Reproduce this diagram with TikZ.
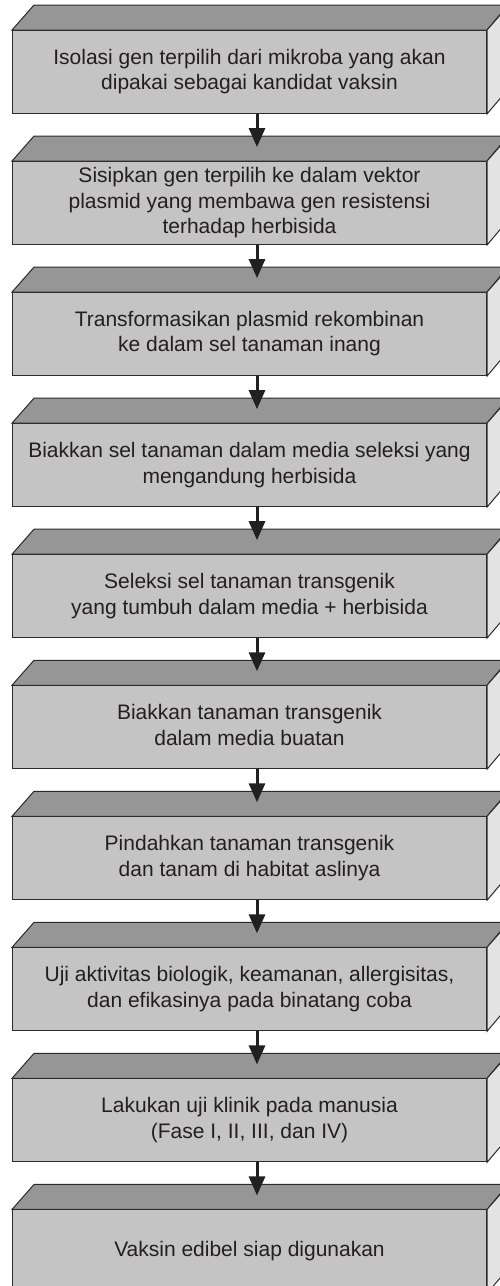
\documentclass[tikz,border=0pt]{standalone}
\usepackage{fontspec}
\setmainfont{Liberation Sans}
\usetikzlibrary{arrows.meta}
\definecolor{topc}{HTML}{969696}
\definecolor{frontc}{HTML}{C4C4C4}
\definecolor{sidec}{HTML}{E3E3E3}
\definecolor{edgec}{HTML}{2B2B2B}
\definecolor{txtc}{HTML}{231F20}
\begin{document}
\begin{tikzpicture}[x=1pt,y=-1pt,
  stepbox/.style={draw=edgec, fill=frontc, line width=1pt, minimum width=474pt,
    minimum height=83pt, inner sep=0pt, align=center, text=txtc,
    font=\fontsize{21}{25.5}\selectfont, anchor=north west},
  face/.style={draw=edgec, line width=1pt, line join=miter},
  topface/.style={face, fill=topc},
  sideface/.style={face, fill=sidec},
  flowarrow/.style={draw=txtc, line width=3pt, -{Triangle[length=19pt,width=16pt]}}]
\useasboundingbox (0,0) rectangle (500,1286);
\clip (0,0) rectangle (500,1286);
\foreach \i/\t in {
  0/{Isolasi gen terpilih dari mikroba yang akan\\dipakai sebagai kandidat vaksin},
  1/{Sisipkan gen terpilih ke dalam vektor\\plasmid yang membawa gen resistensi\\terhadap herbisida},
  2/{Transformasikan plasmid rekombinan\\ke dalam sel tanaman inang},
  3/{Biakkan sel tanaman dalam media seleksi yang\\mengandung herbisida},
  4/{Seleksi sel tanaman transgenik\\yang tumbuh dalam media + herbisida},
  5/{Biakkan tanaman transgenik\\dalam media buatan},
  6/{Pindahkan tanaman transgenik\\dan tanam di habitat aslinya},
  7/{Uji aktivitas biologik, keamanan, allergisitas,\\dan efikasinya pada binatang coba},
  8/{Lakukan uji klinik pada manusia\\(Fase I, II, III, dan IV)},
  9/{Vaksin edibel siap digunakan}} {
  \pgfmathsetmacro\fy{30+131.05*\i}
  \node[stepbox] (b\i) at (12,\fy) {\raisebox{-3pt}{\begin{tabular}{@{}c@{}}\t\end{tabular}}};
  \path[topface] (b\i.north west) -- ++(22,-25) -- ++(474,0) -- (b\i.north east) -- cycle;
  \path[sideface] (b\i.north east) -- ++(22,-25) -- ++(0,83) -- (b\i.south east) -- cycle;
  \coordinate (a\i) at (257,\fy-14);
}
\foreach \i [evaluate=\i as \j using int(\i+1)] in {0,...,8} {
  \draw[flowarrow] (b\i.south -| a\j) -- (a\j);
}
\end{tikzpicture}
\end{document}
